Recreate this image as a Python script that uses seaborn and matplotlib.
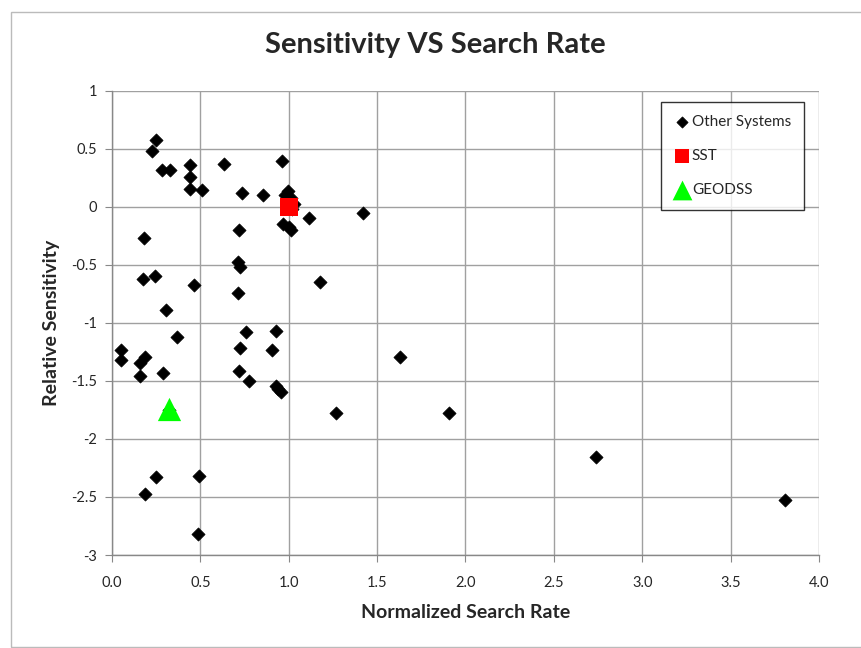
import matplotlib
matplotlib.use("Agg")
import matplotlib.pyplot as plt
import matplotlib.patches as mpatches
import seaborn as sns
import pandas as pd

# Valeurs
other_x = [0.247, 0.226, 0.283, 0.330, 0.442, 0.442, 0.442, 0.511, 0.632, 0.736, 0.853, 0.962,
           0.994, 0.98, 1.01, 1.03, 1.02, 1.0, 0.97, 1.0, 1.01, 1.115,
           0.719, 0.183, 0.711, 0.725, 0.175, 0.242, 0.466, 1.175, 0.715, 0.304, 1.419,
           0.053, 0.053, 0.185, 0.16, 0.156, 0.288, 0.366, 0.758, 0.725, 0.925, 0.904,
           0.719, 0.774, 0.926, 0.94, 0.958, 1.27, 0.32, 0.247, 0.185, 0.494, 0.487,
           1.63, 1.904, 2.738, 3.808]
other_y = [0.575, 0.483, 0.313, 0.313, 0.359, 0.253, 0.149, 0.144, 0.371, 0.118, 0.10, 0.397,
           0.14, 0.10, 0.08, 0.02, -0.02, -0.01, -0.15, -0.17, -0.20, -0.10,
           -0.198, -0.27, -0.474, -0.523, -0.621, -0.598, -0.678, -0.649, -0.747, -0.885, -0.052,
           -1.236, -1.322, -1.29, -1.35, -1.457, -1.428, -1.12, -1.08, -1.213, -1.066, -1.236,
           -1.416, -1.503, -1.54, -1.57, -1.598, -1.773, -1.75, -2.328, -2.471, -2.316, -2.82,
           -1.293, -1.776, -2.158, -2.526]
sst_x = [1.0]
sst_y = [0.0]
geodss_x = [0.32]
geodss_y = [-1.74]

x_ticks = [0.0, 0.5, 1.0, 1.5, 2.0, 2.5, 3.0, 3.5, 4.0]
y_ticks = [-3, -2.5, -2, -1.5, -1, -0.5, 0, 0.5, 1]
y_tick_labels = ['-3', '-2.5', '-2', '-1.5', '-1', '-0.5', '0', '0.5', '1']

sns.set_style("whitegrid")
plt.rcParams['font.family'] = ['Lato', 'DejaVu Sans']

df_other = pd.DataFrame({'x': other_x, 'y': other_y})
df_sst = pd.DataFrame({'x': sst_x, 'y': sst_y})
df_geo = pd.DataFrame({'x': geodss_x, 'y': geodss_y})

fig = plt.figure(figsize=(8.62, 6.48), dpi=100)
ax = fig.add_axes([0.130, 0.1435, 0.820, 0.7165])

sns.scatterplot(x='x', y='y', data=df_other, marker='D', s=45, color='black',
                edgecolor='black', linewidth=0.5, label='Other Systems', ax=ax, zorder=3)
sns.scatterplot(x='x', y='y', data=df_sst, marker='s', s=150, color='#FF0000',
                edgecolor='#FF0000', linewidth=0, label='SST', ax=ax, zorder=4)
sns.scatterplot(x='x', y='y', data=df_geo, marker='^', s=280, color='#00FF00',
                edgecolor='#00FF00', linewidth=0, label='GEODSS', ax=ax, zorder=4)

ax.set_xlim(0, 4)
ax.set_ylim(-3, 1)
ax.set_xticks(x_ticks)
ax.set_xticklabels([f'{v:.1f}' for v in x_ticks])
ax.set_yticks(y_ticks)
ax.set_yticklabels(y_tick_labels)
ax.grid(True, color='#A0A0A0', linewidth=1.0)
ax.set_axisbelow(True)
for side in ['top', 'right']:
    ax.spines[side].set_visible(False)
for side in ['left', 'bottom']:
    ax.spines[side].set_color('#888888')
    ax.spines[side].set_linewidth(1.0)
ax.tick_params(axis='x', bottom=True, length=5, color='#888888', labelsize=10.5, pad=10)
ax.tick_params(axis='y', left=True, length=5, color='#888888', labelsize=10.5, pad=6)

ax.set_xlabel('Normalized Search Rate', fontsize=14, fontweight='bold', labelpad=10)
ax.set_ylabel('Relative Sensitivity', fontsize=14, fontweight='bold', labelpad=8)
fig.suptitle('Sensitivity VS Search Rate', x=0.505, y=0.95, fontsize=21, fontweight='bold')

leg = ax.legend(loc='upper right', bbox_to_anchor=(0.979, 0.976), borderaxespad=0,
                frameon=True, fancybox=False, edgecolor='black', fontsize=11,
                labelspacing=1.3, handletextpad=0.1, handlelength=1.1, borderpad=0.85,
                markerscale=0.85)
leg.get_frame().set_linewidth(1.0)

# Bordure de la zone du graphique
fig.patches.append(mpatches.Rectangle((11 / 862, 0.002), 1.0, 1 - 12 / 648 - 0.002,
                                      transform=fig.transFigure, fill=False,
                                      edgecolor='#BBBBBB', linewidth=1.0))

plt.savefig('out.png', format='png', dpi=100)
plt.close()
